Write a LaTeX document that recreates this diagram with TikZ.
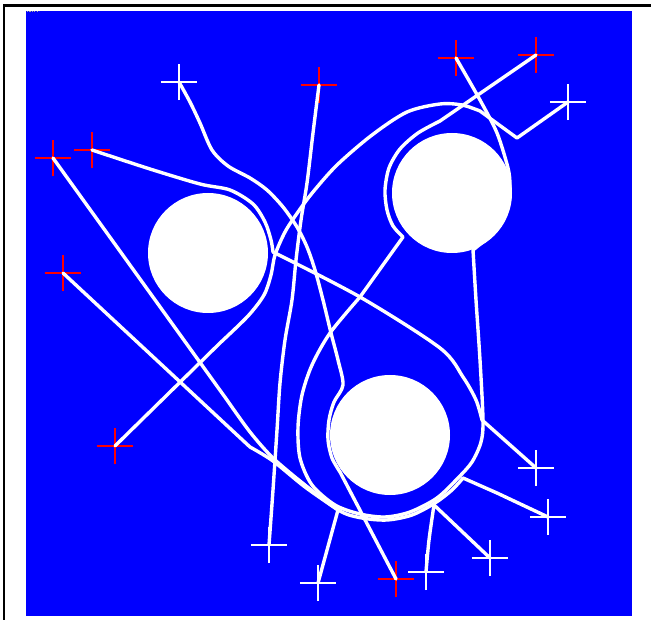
\documentclass[tikz,border=0pt]{standalone}
\usetikzlibrary{shapes.misc}

\begin{document}
\begin{tikzpicture}[
	x=1pt, y=-1pt,
	obstacle/.style={
		circle,
		fill=white,
		minimum size=120pt,
		inner sep=0pt
	},
	redcross/.style={
		cross out,
		rotate=45,
		draw=red,
		line width=2.4pt,
		minimum size=23.3pt,
		inner sep=0pt
	},
	whitecross/.style={redcross,draw=white},
	track/.style={draw=white,line width=3.4pt,line join=round,line cap=round}
	]
	
	\useasboundingbox (0,0) rectangle (651,620);
	\fill[blue] (26,11) rectangle (632,616);
	\draw[line width=2.6pt] (4,620) -- (4,5.3) -- (651,5.3);
	\draw[gray!70,line width=1.2pt,dash pattern=on 1.2pt off 1.2pt] (27,11.6) -- (39,11.6);
	
	% obstacles
	\node[obstacle] (obsA) at (208,253) {};
	\node[obstacle] (obsB) at (452,193) {};
	\node[obstacle] (obsC) at (390,435) {};
	
	% starts
	\node[redcross] (s1) at (53,158) {};
	\node[redcross] (s2) at (92,150) {};
	\node[redcross] (s3) at (63,273) {};
	\node[redcross] (s4) at (115,446) {};
	\node[redcross] (s5) at (319,85) {};
	\node[redcross] (s6) at (456,58) {};
	\node[redcross] (s7) at (536,55) {};
	\node[redcross] (s8) at (396,579) {};
	
	% goals
	\node[whitecross] (g1) at (179,82) {};
	\node[whitecross] (g2) at (568,102) {};
	\node[whitecross] (g3) at (536,468) {};
	\node[whitecross] (g4) at (426,572) {};
	\node[whitecross] (g5) at (548,517) {};
	\node[whitecross] (g6) at (490,558) {};
	\node[whitecross] (g7) at (318,583) {};
	\node[whitecross] (g8) at (269,545) {};
	
	% paths
	\draw[track] plot[smooth] coordinates {(g1.center) (190,102) (200,123) (212,150) (228,166) (250,178) (267,190) (283,207) (297,227) (307,247) (315,270) (323,300) (331,333) (338,360) (343,385) (334,402) (329,420) (328,440) (332,458) (340,472)} -- (s8.center);
	
	\draw[track] plot[smooth] coordinates {(s2.center) (150,169) (200,184) (230,190) (253,204) (265,222) (271,240) (273,252)}
		-- plot[smooth] coordinates {(273,252) (360,297) (440,348) (463,377) (476,400) (482,420)} -- (g3.center);
	
	\draw[track] (s4.center) -- plot[smooth] coordinates {(220,343) (248,316) (264,295) (271,275) (275,255) (285,232) (298,212) (313,192) (337,165) (372,135) (407,112) (440,104) (462,105) (480,111)} -- (517,138) -- (g2.center);
	
	\draw[track] (s7.center) -- plot[smooth] coordinates {(440,121) (418,133) (400,149) (389,168) (385,190) (387,210) (393,226) (403,237)}
		-- plot[smooth] coordinates {(360,297) (330,333) (312,365) (302,395) (298,427) (300,458) (312,485) (335,505) (360,514) (385,517) (410,512) (437,498) (458,478) (472,462) (481,442) (483,420) (480,360) (476,300) (473,250)}
		-- plot[smooth] coordinates {(489,237) (502,222) (509,203) (510,185) (508,168) (497,133) (480,100) (s6.center)};
	
	\draw[track] plot[smooth] coordinates {(s5.center) (313,133) (307,183) (301,220) (296,260) (292,300) (285,340) (280,383) (277,430) (273,490) (g8.center)};
	
	\draw[track] (s3.center) -- plot[smooth] coordinates {(250,447) (273,461) (305,487) (338,510)} -- (g7.center);
	
	\draw[track] (s1.center) -- plot[smooth] coordinates {(227,400) (250,432) (273,458) (305,485) (340,511) (362,518) (387,520) (412,515) (435,503) (452,490) (463,478)} -- (497,493) -- (g5.center);
	
	\coordinate (fork) at (434,505);
	\draw[track] plot[smooth] coordinates {(fork) (429,540) (g4.center)};
	\draw[track] (fork) -- (g6.center);
	
\end{tikzpicture}
\end{document}
